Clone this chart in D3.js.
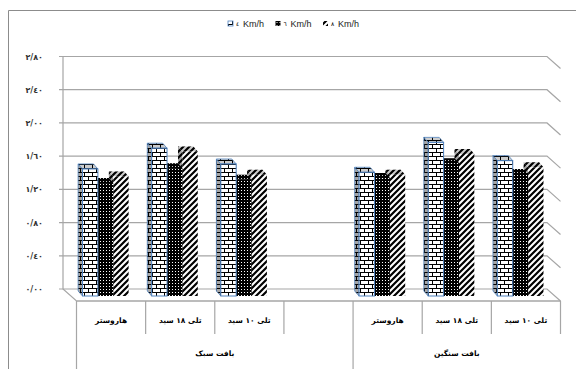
<!DOCTYPE html>
<html>
<head>
<meta charset="utf-8">
<script src="https://cdn.jsdelivr.net/npm/d3@7"></script>
<style>
body{margin:0;background:#fff;}
svg{display:block;}
</style>
</head>
<body>
<div id="chart"></div>
<script>
// categories left to right, the empty slot keeps the two textures apart
const categories = ["هاروستر","تلی ۱۸ سید","تلی ۱۰ سید","","هاروستر","تلی ۱۸ سید","تلی ۱۰ سید"];
const groups = ["بافت سبک","بافت سنگین"];
const groupSlots = [[0,3],[4,6]];
const seriesNames = ["٤","٦","٨"];
const speed4 = [1.53,1.78,1.59,null,1.49,1.85,1.63];
const speed6 = [1.36,1.54,1.40,null,1.42,1.60,1.47];
const speed8 = [1.44,1.74,1.46,null,1.46,1.71,1.55];
const yTicks = [0,0.4,0.8,1.2,1.6,2.0,2.4,2.8];
const yTickLabels = ["٠/٠٠","٠/٤٠","٠/٨٠","١/٢٠","١/٦٠","٢/٠٠","٢/٤٠","٢/٨٠"];

const W = 576, H = 369;
const fa = "'DejaVu Sans', sans-serif";
const gridCol = "#a6a6a6";

const svg = d3.select("#chart").append("svg").attr("width",W).attr("height",H);
const defs = svg.append("defs");

// brick pattern
let brick = defs.append("pattern").attr("id","brick").attr("patternUnits","userSpaceOnUse")
  .attr("width",8).attr("height",8);
brick.append("rect").attr("width",8).attr("height",8).attr("fill","#fff");
brick.append("path").attr("d","M0,0.5H8M0,4.5H8M0.5,0V4.5M4.5,4.5V8")
  .attr("stroke","#000").attr("stroke-width",1).attr("fill","none");

// black with small white dots
let dots = defs.append("pattern").attr("id","dots").attr("patternUnits","userSpaceOnUse")
  .attr("width",3).attr("height",3);
dots.append("rect").attr("width",3).attr("height",3).attr("fill","#000");
dots.append("rect").attr("x",1).attr("y",1).attr("width",1).attr("height",1).attr("fill","#fff");

// wide upward diagonal
let hatch = defs.append("pattern").attr("id","hatch").attr("patternUnits","userSpaceOnUse")
  .attr("width",6).attr("height",6);
hatch.append("rect").attr("width",6).attr("height",6).attr("fill","#fff");
hatch.append("path").attr("d","M-1,7L7,-1M-4,4L4,-4M2,10L10,2")
  .attr("stroke","#000").attr("stroke-width",2.2);

const fills = ["url(#brick)","url(#dots)","url(#hatch)"];
const edge = ["#4f81bd","none","none"];

// chart area border (left and top only inside the window)
svg.append("path").attr("d","M8.5,369V10.5H576").attr("fill","none").attr("stroke","#8c8c8c");

// scales
const xAxis = d3.scaleBand().domain(d3.range(categories.length)).range([76.5,560.5]);
const floor = {x:13.5, y:12};      // back wall -> front edge
const barOff = {x:-5.5, y:-5};     // bar front plane behind the axis
const barDepth = {x:-4.4, y:-5};   // one bar's depth
const xBar = d3.scaleBand().domain(d3.range(categories.length))
  .range([76.5+barOff.x, 560.5+barOff.x]).paddingInner(1/3).paddingOuter(1/6);
const xSer = d3.scaleBand().domain(d3.range(3)).range([0,xBar.bandwidth()]);
const yWall = d3.scaleLinear().domain([0,2.8]).range([289,56.5]);
const yBar = d3.scaleLinear().domain([0,2.8]).range([301+barOff.y, 301+barOff.y-(289-56.5)]);

const wallL = xAxis.range()[0]-floor.x, wallR = xAxis.range()[1]-floor.x;

// gridlines on back wall + right wall
svg.append("g").selectAll("path").data(yTicks).enter().append("path")
  .attr("d",d=>`M${wallL-4},${yWall(d)}H${wallR}l${floor.x},${floor.y}`)
  .attr("fill","none").attr("stroke",gridCol).attr("stroke-width",1.2);
svg.append("path").attr("d",`M${wallL},${yWall(2.8)}V${yWall(0)}l${floor.x},${floor.y}H${xAxis.range()[1]}`)
  .attr("fill","none").attr("stroke",gridCol).attr("stroke-width",1.2);

svg.append("g").selectAll("text").data(yTicks).enter().append("text")
  .attr("x",43).attr("y",d=>yWall(d)+3)
  .attr("text-anchor","end").attr("direction","ltr")
  .style("font-family",fa).style("font-size","8px").style("font-weight","bold").attr("fill","#333")
  .text((d,i)=>yTickLabels[i]);

// bars, drawn right to left so left bars cover their neighbours' side faces
const vals = [speed4,speed6,speed8];
let bars = [];
categories.forEach((c,i)=>{ vals.forEach((arr,s)=>{ if(arr[i]!=null) bars.push({i:i,s:s,v:arr[i]}); }); });
bars.sort((a,b)=> (b.i-a.i) || (b.s-a.s));

const bw = xSer.bandwidth();
let bar = svg.append("g").selectAll("g").data(bars).enter().append("g");
function leftFace(d){ let x=xBar(d.i)+xSer(d.s), yt=yBar(d.v), yb=yBar(0);
  return `M${x},${yb}V${yt}l${barDepth.x},${barDepth.y}V${yb+barDepth.y}Z`; }
function topFace(d){ let x=xBar(d.i)+xSer(d.s), yt=yBar(d.v);
  return `M${x},${yt}h${bw}l${barDepth.x},${barDepth.y}h${-bw}Z`; }
bar.append("path").attr("d",leftFace).attr("fill",d=>fills[d.s]);
bar.append("path").attr("d",leftFace).attr("fill","rgba(0,0,0,0.35)")
  .attr("stroke",d=>edge[d.s]).attr("stroke-width",0.8);
bar.append("path").attr("d",topFace).attr("fill",d=>fills[d.s]);
bar.append("path").attr("d",topFace).attr("fill","rgba(0,0,0,0.2)")
  .attr("stroke",d=>edge[d.s]).attr("stroke-width",0.8);
bar.append("rect")
  .attr("x",d=>xBar(d.i)+xSer(d.s)).attr("y",d=>yBar(d.v))
  .attr("width",bw).attr("height",d=>yBar(0)-yBar(d.v))
  .attr("fill",d=>fills[d.s]).attr("stroke",d=>edge[d.s]).attr("stroke-width",1);

// category axis
const axY = 301;
svg.append("path").attr("d",`M${xAxis.range()[0]},${axY}H${xAxis.range()[1]}`).attr("stroke",gridCol).attr("stroke-width",1.2);
let bounds = d3.range(categories.length+1);
svg.append("g").selectAll("line").data(bounds).enter().append("line")
  .attr("x1",d=>xAxis.range()[0]+d*xAxis.step()).attr("x2",d=>xAxis.range()[0]+d*xAxis.step())
  .attr("y1",axY).attr("y2",d=>(d==0||d==4)?H:334)
  .attr("stroke",gridCol).attr("stroke-width",1.2);

svg.append("g").selectAll("text").data(categories).enter().append("text")
  .attr("x",(d,i)=>xAxis(i)+xAxis.bandwidth()/2).attr("y",323)
  .attr("text-anchor","middle")
  .style("font-family",fa).style("font-size","7.5px").style("font-weight","bold")
  .text(d=>d);

svg.append("g").selectAll("text").data(groups).enter().append("text")
  .attr("x",(d,i)=>(xAxis(groupSlots[i][0])+xAxis(groupSlots[i][1])+xAxis.bandwidth())/2)
  .attr("y",356).attr("text-anchor","middle")
  .style("font-family",fa).style("font-size","7.5px").style("font-weight","bold")
  .text(d=>d);

// legend
let leg = svg.append("g").selectAll("g").data(seriesNames).enter().append("g")
  .attr("transform",(d,i)=>`translate(${228+i*47.5},24)`);
leg.append("rect").attr("x",0).attr("y",-3).attr("width",5).attr("height",5)
  .attr("fill",(d,i)=>fills[i]).attr("stroke",(d,i)=>edge[i]).attr("stroke-width",0.8);
leg.append("text").attr("x",8).attr("y",2).style("font-family",fa).style("font-size","6px").text(d=>d);
leg.append("text").attr("x",15).attr("y",3).style("font-family","'Liberation Sans', Arial, sans-serif")
  .style("font-size","9px").attr("fill","#222").text("Km/h");
</script>
</body>
</html>
